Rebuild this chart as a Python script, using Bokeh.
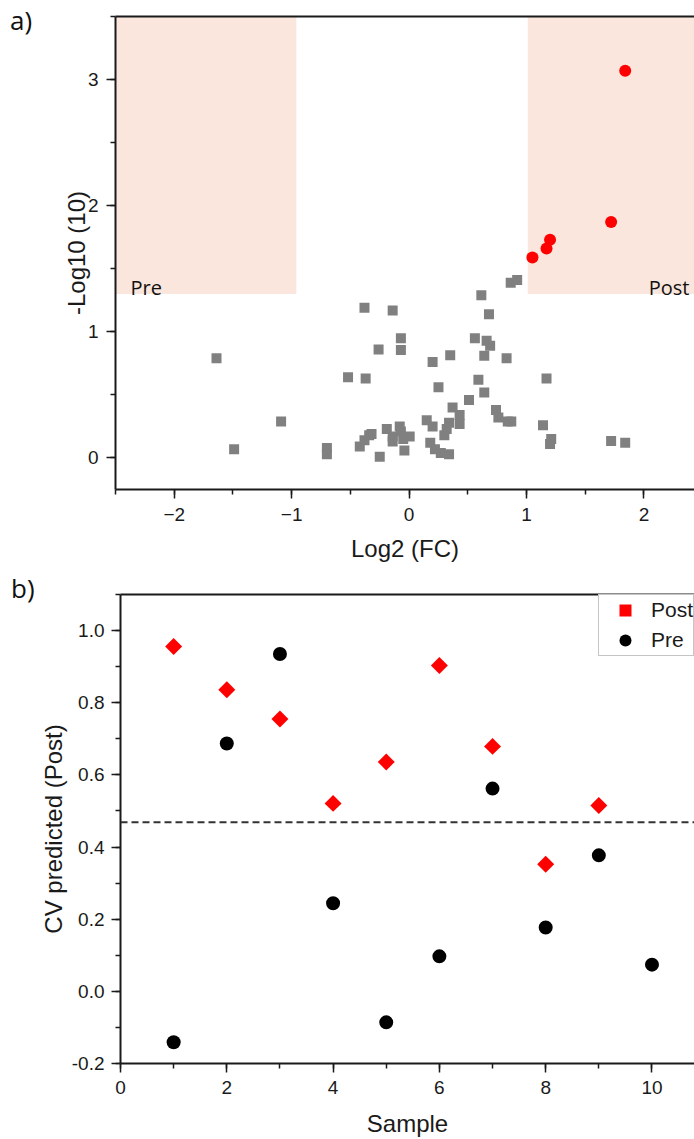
import numpy as np
from bokeh.plotting import figure
from bokeh.models import (Range1d, LinearAxis, SingleIntervalTicker, FixedTicker,
                          BoxAnnotation, Label, Span, Legend, LegendItem,
                          NumeralTickFormatter, Div)
from bokeh.embed import file_html
from bokeh.resources import INLINE

# ---------------- Panel a: volcano plot ----------------
ns_log2fc = [-1.64, -1.49, -1.09, -0.70, -0.70, -0.52, -0.37, -0.38, -0.14, -0.26,
             -0.07, -0.07, -0.42, -0.38, -0.34, -0.32, -0.25, -0.19, -0.08, 0.005,
             -0.14, -0.04, -0.07, -0.14, 0.15, 0.20, 0.18, 0.22, 0.27, 0.34,
             0.30, 0.32, 0.34, 0.37, 0.43, 0.43, 0.51, 0.59, 0.25, 0.64,
             0.74, 0.76, 0.84, 0.87, 1.17, 1.14, 1.21, 1.20, 1.72, 1.84,
             0.20, 0.35, 0.56, 0.66, 0.69, 0.64, 0.83, 0.615, 0.68, 0.865,
             0.92, -0.05]
ns_neglog10p = [0.79, 0.07, 0.29, 0.08, 0.03, 0.64, 0.63, 1.19, 1.17, 0.86,
                0.95, 0.855, 0.09, 0.14, 0.18, 0.19, 0.01, 0.23, 0.25, 0.17,
                0.13, 0.06, 0.21, 0.17, 0.30, 0.25, 0.12, 0.07, 0.04, 0.03,
                0.18, 0.23, 0.28, 0.40, 0.34, 0.27, 0.46, 0.62, 0.56, 0.52,
                0.38, 0.32, 0.29, 0.29, 0.63, 0.26, 0.15, 0.11, 0.135, 0.12,
                0.76, 0.815, 0.95, 0.93, 0.89, 0.81, 0.79, 1.29, 1.14, 1.39,
                1.41, 0.15]
sig_log2fc = [1.05, 1.17, 1.20, 1.72, 1.84]
sig_neglog10p = [1.59, 1.66, 1.73, 1.87, 3.07]
fc_cut_low = -0.96
fc_cut_high = 1.01
p_cut = 1.3
region_labels = ["Pre", "Post"]

# ---------------- Panel b: CV predictions ----------------
post_sample = [1, 2, 3, 4, 5, 6, 7, 8, 9]
post_cv = [0.956, 0.836, 0.755, 0.521, 0.636, 0.903, 0.679, 0.352, 0.515]
pre_sample = [1, 2, 3, 4, 5, 6, 7, 8, 9, 10]
pre_cv = [-0.141, 0.687, 0.935, 0.244, -0.086, 0.097, 0.562, 0.177, 0.377, 0.074]
cv_threshold = 0.469

panel_tags = ["a)", "b)"]

FONT = "Liberation Sans"
TXT = "#1a1a1a"


def style_axis(ax, tick_standoff=6, label_standoff=8):
    ax.axis_line_width = 2
    ax.axis_line_color = TXT
    ax.major_tick_line_color = TXT
    ax.minor_tick_line_color = TXT
    ax.major_tick_line_width = 1.5
    ax.minor_tick_line_width = 1.5
    ax.major_tick_in = 0
    ax.major_tick_out = 9
    ax.minor_tick_in = 0
    ax.minor_tick_out = 5
    ax.major_label_text_font = FONT
    ax.major_label_text_font_size = "19px"
    ax.major_label_text_color = TXT
    ax.major_label_standoff = tick_standoff
    ax.axis_label_text_font = FONT
    ax.axis_label_text_font_size = "24px"
    ax.axis_label_text_font_style = "normal"
    ax.axis_label_text_color = TXT
    ax.axis_label_standoff = label_standoff


def add_top_line(p):
    top = LinearAxis(ticker=FixedTicker(ticks=[], minor_ticks=[]))
    top.axis_line_width = 2
    top.axis_line_color = TXT
    top.major_tick_line_color = None
    top.minor_tick_line_color = None
    top.major_label_text_font_size = "0px"
    p.add_layout(top, "above")


def tag_div(text, left, top):
    css = (":host { position: absolute !important; left: %dpx !important; "
           "top: %dpx !important; z-index: 10 !important; }" % (left, top))
    return Div(text=text, stylesheets=[css],
               styles={"font-family": "Open Sans", "font-size": "26px",
                       "line-height": "34px", "color": "#111111",
                       "margin": "0", "padding": "0"})


# ---- figure a ----
pa = figure(width=694, height=566, x_range=Range1d(-2.5, 2.43), y_range=Range1d(-0.25, 3.5),
            output_backend="svg", toolbar_location=None,
            min_border_left=115, min_border_right=0, min_border_top=16, min_border_bottom=77)
pa.xgrid.visible = False
pa.ygrid.visible = False
pa.outline_line_color = None
pa.xaxis.ticker = SingleIntervalTicker(interval=1, num_minor_ticks=2)
pa.yaxis.ticker = SingleIntervalTicker(interval=1, num_minor_ticks=2)
pa.xaxis.axis_label = "Log2 (FC)"
pa.yaxis.axis_label = "-Log10 (10)"
style_axis(pa.xaxis[0], tick_standoff=9, label_standoff=11)
style_axis(pa.yaxis[0], tick_standoff=8, label_standoff=-5)
add_top_line(pa)

shade = "#fae6dc"
pa.add_layout(BoxAnnotation(right=fc_cut_low, bottom=p_cut, fill_color=shade, fill_alpha=1,
                            line_color=None, level="underlay"))
pa.add_layout(BoxAnnotation(left=fc_cut_high, bottom=p_cut, fill_color=shade, fill_alpha=1,
                            line_color=None, level="underlay"))

pa.scatter(ns_log2fc, ns_neglog10p, marker="square", size=10, fill_color="#808080",
           line_color=None)
pa.scatter(sig_log2fc, sig_neglog10p, marker="circle", size=12, fill_color="#ff0000",
           line_color=None)

pa.add_layout(Label(x=-2.372, y=1.352, text=region_labels[0], text_font="Open Sans",
                    text_font_size="20px", text_color="#111", text_baseline="alphabetic",
                    text_align="left"))
pa.add_layout(Label(x=2.387, y=1.352, text=region_labels[1], text_font="Open Sans",
                    text_font_size="20px", text_color="#111", text_baseline="alphabetic",
                    text_align="right"))

# ---- figure b ----
pb = figure(width=694, height=573, x_range=Range1d(0, 10.8), y_range=Range1d(-0.2, 1.1),
            output_backend="svg", toolbar_location=None,
            min_border_left=120, min_border_right=0, min_border_top=28, min_border_bottom=74)
pb.xgrid.visible = False
pb.ygrid.visible = False
pb.outline_line_color = None
pb.xaxis.ticker = SingleIntervalTicker(interval=2, num_minor_ticks=2)
pb.yaxis.ticker = SingleIntervalTicker(interval=0.2, num_minor_ticks=2)
pb.yaxis.formatter = NumeralTickFormatter(format="0.0")
pb.xaxis.axis_label = "Sample"
pb.yaxis.axis_label = "CV predicted (Post)"
style_axis(pb.xaxis[0], tick_standoff=8, label_standoff=13)
style_axis(pb.yaxis[0], tick_standoff=7, label_standoff=2)
add_top_line(pb)

pb.add_layout(Span(location=cv_threshold, dimension="width", line_color="#333333",
                   line_width=2, line_dash="7 4"))

r_post = pb.scatter(post_sample, post_cv, marker="square", angle=np.pi / 4, size=12,
                    fill_color="#ff0000", line_color=None)
r_pre = pb.scatter(pre_sample, pre_cv, marker="circle", size=14, fill_color="#000000",
                   line_color=None)

leg = Legend(items=[LegendItem(label="Post", renderers=[r_post]),
                    LegendItem(label="Pre", renderers=[r_pre])],
             location=(478, 407), padding=0, spacing=0, glyph_height=30, glyph_width=52,
             label_height=30, label_standoff=0, label_text_font=FONT,
             label_text_font_size="21px", label_text_color=TXT,
             border_line_color="#8c8c8c", border_line_width=1,
             background_fill_color="white", background_fill_alpha=1, margin=0)
pb.add_layout(leg)

div_a = tag_div(panel_tags[0], 10, 3)
div_b = tag_div(panel_tags[1], 11, 571)

open("out.html", "w").write(file_html([pa, pb, div_a, div_b], INLINE))
